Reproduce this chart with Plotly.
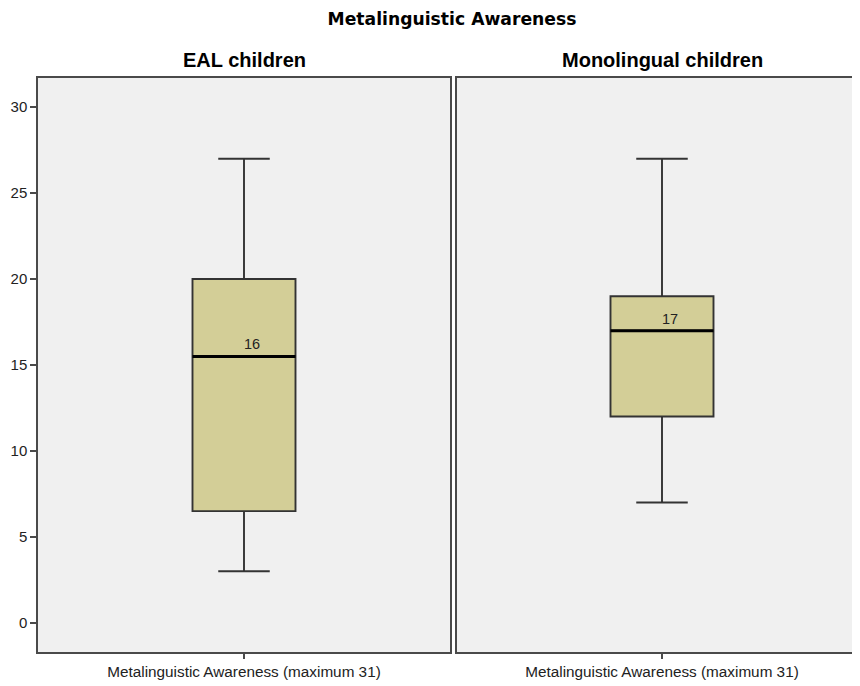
import plotly.graph_objects as go

groups = ["EAL children", "Monolingual children"]
lower_whisker = [3, 7]
q1 = [6.5, 12]
median = [15.5, 17]
q3 = [20, 19]
upper_whisker = [27, 27]
median_labels = ["16", "17"]
x_label = "Metalinguistic Awareness (maximum 31)"
y_ticks = [0, 5, 10, 15, 20, 25, 30]

fill = "#d3ce97"
line_col = "#333333"
frame_col = "#4a4a4a"
bg = "#f0f0f0"

# page body has an 8px margin, so the figure is laid out 8px smaller
W, H = 852, 678
fig = go.Figure()
domains = [[30/W, 442/W], [449/W, 1.0]]
xranges = [[-0.5, 0.5], [-205/412, 198/412]]
title_x = [236/W, 654/W]

for i, g in enumerate(groups):
    xa = "x" if i == 0 else "x2"
    ya = "y" if i == 0 else "y2"
    fig.add_trace(go.Box(
        x=[0], q1=[q1[i]], median=[median[i]], q3=[q3[i]],
        lowerfence=[lower_whisker[i]], upperfence=[upper_whisker[i]],
        width=0.25, whiskerwidth=0.5,
        fillcolor=fill, line=dict(color=line_col, width=1.9),
        boxpoints=False, hoverinfo="skip", showlegend=False,
        xaxis=xa, yaxis=ya,
    ))
    fig.add_shape(type="line", xref=xa, yref=ya, x0=-0.125, x1=0.125,
                  y0=median[i], y1=median[i], line=dict(color="black", width=3))
    fig.add_annotation(xref=xa, yref=ya, x=0.02, y=median[i], text=median_labels[i],
                       showarrow=False, yanchor="bottom", yshift=2,
                       font=dict(family="Liberation Sans, Arial", size=14.5, color="#222"))
    fig.add_annotation(xref="paper", yref="paper", x=title_x[i], y=1, text=f"<b>{g}</b>",
                       showarrow=False, xanchor="center", yanchor="bottom", yshift=5,
                       font=dict(family="Liberation Sans, Arial", size=20, color="black"))

axis_common_x = dict(showline=True, mirror=True, linecolor=frame_col, linewidth=1.5,
                     showgrid=False, zeroline=False, ticks="outside", ticklen=5,
                     tickcolor=frame_col, tickwidth=1.5, tickvals=[0], ticktext=[x_label],
                     tickfont=dict(family="Liberation Sans, Arial", size=15.3, color="#222"),
                     fixedrange=True, automargin=False)
axis_common_y = dict(showline=True, mirror=True, linecolor=frame_col, linewidth=1.5,
                     showgrid=False, zeroline=False, range=[-1.7, 31.7],
                     tickvals=y_ticks, fixedrange=True, automargin=False)

fig.update_layout(
    width=W, height=H,
    margin=dict(l=0, r=0, t=70, b=34),
    paper_bgcolor="white", plot_bgcolor=bg,
    title=dict(text="<b>Metalinguistic Awareness</b>", x=444/W, xanchor="center",
               y=1 - 11/H, yanchor="middle", automargin=False,
               font=dict(family="DejaVu Sans", size=17.2, color="black")),
    xaxis=dict(domain=domains[0], range=xranges[0], anchor="y", **axis_common_x),
    xaxis2=dict(domain=domains[1], range=xranges[1], anchor="y2", **axis_common_x),
    yaxis=dict(domain=[0, 1], anchor="x", ticks="outside", ticklen=6, tickcolor=frame_col,
               tickwidth=1.5, showticklabels=True,
               tickfont=dict(family="Liberation Sans, Arial", size=15, color="#222"),
               **axis_common_y),
    yaxis2=dict(domain=[0, 1], anchor="x2", ticks="", showticklabels=False, **axis_common_y),
)

fig.write_html("out.html")
